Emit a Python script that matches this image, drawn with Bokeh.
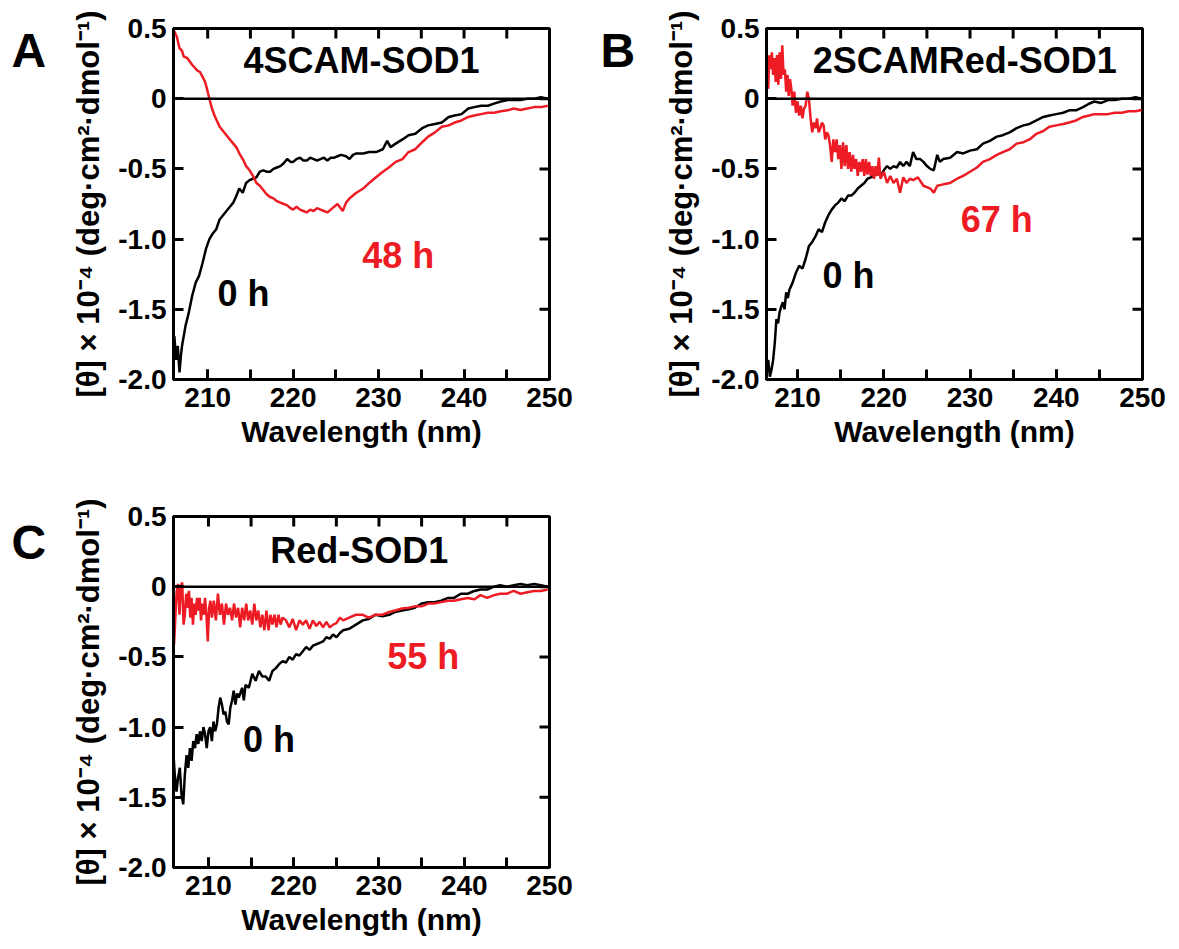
import math
from bokeh.plotting import figure
from bokeh.models import Range1d, FixedTicker, Span, Label
from bokeh.layouts import column, row
from bokeh.embed import file_html
from bokeh.resources import INLINE

FONT = "Liberation Sans"
RED = "#ED1C24"

# ---------------- data ----------------
x_major = [210, 220, 230, 240, 250]
x_minor = [205, 210, 215, 220, 225, 230, 235, 240, 245, 250]
y_major = [-2.0, -1.5, -1.0, -0.5, 0.0, 0.5]
y_tick_labels = ["-2.0", "-1.5", "-1.0", "-0.5", "0", "0.5"]

titles = ["4SCAM-SOD1", "2SCAMRed-SOD1", "Red-SOD1"]
panel_letters = ["A", "B", "C"]
late_labels = ["48 h", "67 h", "55 h"]
early_label = "0 h"

# Panel A, 0 h
a_wl_0h = [206.1, 206.3, 206.5, 206.7, 206.9, 207.0, 207.4, 207.8, 208.2, 208.6, 209.0, 209.4, 209.8,
           210.2, 210.6, 211.0, 211.4, 211.8, 212.2, 212.6, 213.0, 213.3, 213.7, 214.1, 214.5, 214.9,
           215.3, 215.7, 216.1, 216.5, 216.9, 217.3, 217.7, 218.1, 218.5, 218.9, 219.3, 219.7, 220.0,
           220.4, 220.8, 221.2, 221.6, 222.0, 222.4, 222.8, 223.2, 223.6, 224.0, 224.4, 224.8, 225.2,
           225.6, 226.2, 226.6, 227.0, 227.4, 228.2, 228.9, 229.7, 230.5, 231.0, 231.4, 232.0, 232.8,
           233.5, 234.3, 235.1, 235.8, 236.6, 237.4, 238.2, 238.9, 239.7, 240.5, 241.2, 242.0, 242.8,
           243.5, 244.3, 245.1, 245.8, 246.6, 247.4, 248.2, 249.0, 249.8]
a_th_0h = [-1.69, -1.86, -1.76, -1.95, -1.81, -1.76, -1.62, -1.52, -1.40, -1.31, -1.26, -1.17, -1.07,
           -1.00, -0.96, -0.93, -0.86, -0.83, -0.80, -0.77, -0.74, -0.70, -0.64, -0.67, -0.60, -0.58,
           -0.57, -0.56, -0.52, -0.51, -0.52, -0.52, -0.50, -0.49, -0.48, -0.46, -0.43, -0.45, -0.45,
           -0.43, -0.42, -0.44, -0.44, -0.42, -0.43, -0.44, -0.43, -0.42, -0.44, -0.42, -0.42, -0.41,
           -0.40, -0.41, -0.43, -0.40, -0.39, -0.39, -0.38, -0.38, -0.36, -0.30, -0.345, -0.32, -0.29,
           -0.26, -0.25, -0.21, -0.19, -0.18, -0.17, -0.13, -0.12, -0.11, -0.07, -0.06, -0.05, -0.05,
           -0.035, -0.02, -0.01, -0.01, -0.01, 0.0, 0.0, 0.01, 0.0]

# Panel A, 48 h
a_wl_late = [206.1, 206.4, 206.7, 207.0, 207.2, 207.6, 208.2, 208.8, 209.1, 209.4, 209.7, 210.0, 210.2,
             210.5, 210.8, 211.1, 211.4, 211.8, 212.2, 212.6, 213.0, 213.4, 213.7, 214.1, 214.5, 214.9,
             215.3, 215.7, 216.1, 216.5, 216.9, 217.3, 217.7, 218.1, 218.5, 218.9, 219.3, 219.7, 220.0,
             220.4, 220.8, 221.2, 221.6, 222.0, 222.4, 222.8, 223.2, 223.6, 224.0, 224.4, 224.8, 225.2,
             225.8, 226.2, 226.6, 227.0, 227.4, 228.2, 228.9, 229.7, 230.5, 231.2, 232.0, 232.8, 233.5,
             234.3, 235.1, 235.8, 236.6, 237.4, 238.2, 238.9, 239.7, 240.5, 241.2, 242.0, 242.8, 243.5,
             244.3, 245.1, 245.8, 246.6, 247.4, 248.2, 249.0, 249.8]
a_th_late = [0.48, 0.44, 0.36, 0.34, 0.30, 0.29, 0.24, 0.20, 0.19, 0.155, 0.12, 0.05, 0.0,
             -0.07, -0.12, -0.16, -0.20, -0.23, -0.26, -0.29, -0.32, -0.35, -0.39, -0.43, -0.48, -0.51,
             -0.55, -0.60, -0.62, -0.65, -0.68, -0.70, -0.71, -0.73, -0.74, -0.75, -0.76, -0.78, -0.79,
             -0.77, -0.79, -0.80, -0.81, -0.79, -0.80, -0.78, -0.79, -0.80, -0.81, -0.79, -0.77, -0.75,
             -0.80, -0.74, -0.71, -0.69, -0.67, -0.64, -0.60, -0.56, -0.52, -0.49, -0.45, -0.43, -0.38,
             -0.36, -0.31, -0.27, -0.24, -0.20, -0.19, -0.17, -0.155, -0.13, -0.12, -0.11, -0.10, -0.10,
             -0.09, -0.083, -0.07, -0.08, -0.07, -0.06, -0.06, -0.05]

# Panel B, 0 h
b_wl_0h = [206.6, 206.79, 206.98, 207.17, 207.36, 207.55, 207.74, 207.92, 208.11, 208.3, 208.49, 208.68,
           208.87, 209.06, 209.43, 209.81, 210.19, 210.57, 210.94, 211.32, 211.7, 212.08, 212.45, 212.83,
           213.21, 213.58, 213.96, 214.34, 214.72, 215.09, 215.47, 215.85, 216.23, 216.6, 216.98, 217.36,
           217.74, 218.11, 218.49, 218.87, 219.25, 219.62, 220.0, 220.38, 220.75, 221.13, 221.51, 221.89,
           222.26, 222.64, 223.02, 223.4, 223.77, 224.23, 224.6, 225.0, 225.4, 225.8, 226.2, 226.5, 226.9,
           227.7, 228.5, 229.2, 230.0, 230.8, 231.5, 232.3, 233.1, 233.8, 234.6, 235.4, 236.2, 236.9,
           237.7, 238.5, 239.2, 240.0, 240.8, 241.5, 242.3, 243.1, 243.8, 244.4, 245.2, 246.0, 246.8,
           247.6, 248.4, 249.2, 249.9]
b_th_0h = [-1.86, -1.98, -1.93, -1.86, -1.74, -1.57, -1.60, -1.52, -1.48, -1.45, -1.50, -1.38,
           -1.42, -1.36, -1.31, -1.24, -1.19, -1.21, -1.14, -1.05, -1.02, -0.98, -0.93, -0.95,
           -0.88, -0.83, -0.79, -0.76, -0.74, -0.71, -0.73, -0.69, -0.69, -0.67, -0.64, -0.62,
           -0.60, -0.57, -0.56, -0.55, -0.52, -0.55, -0.51, -0.48, -0.50, -0.48, -0.49, -0.45,
           -0.48, -0.45, -0.48, -0.38, -0.43, -0.43, -0.45, -0.48, -0.50, -0.51, -0.40, -0.45, -0.43,
           -0.42, -0.38, -0.39, -0.37, -0.36, -0.32, -0.30, -0.27, -0.26, -0.24, -0.21, -0.19, -0.18,
           -0.155, -0.13, -0.12, -0.11, -0.10, -0.083, -0.083, -0.06, -0.036, -0.02, -0.03, -0.01, -0.01,
           0.0, 0.0, 0.01, 0.0]

# Panel B, 67 h
b_wl_late = [206.6, 206.72, 206.87, 207.02, 207.17, 207.32, 207.47, 207.62, 207.77, 207.92, 208.08, 208.23,
             208.38, 208.53, 208.68, 208.83, 208.98, 209.13, 209.28, 209.43, 209.62, 209.81, 210.0, 210.19,
             210.38, 210.57, 210.75, 210.94, 211.13, 211.32, 211.51, 211.7, 211.89, 212.08, 212.26, 212.45,
             212.64, 212.83, 213.02, 213.21, 213.4, 213.58, 213.77, 213.96, 214.15, 214.34, 214.53, 214.72,
             214.91, 215.09, 215.28, 215.47, 215.66, 215.85, 216.04, 216.23, 216.42, 216.6, 216.79, 216.98,
             217.17, 217.36, 217.55, 217.74, 217.92, 218.11, 218.3, 218.49, 218.68, 218.87, 219.06, 219.25,
             219.43, 219.62, 220.0, 220.38, 220.75, 221.13, 221.51, 221.89, 222.26, 222.64, 223.02, 223.4,
             223.96, 224.6, 225.4, 225.8, 226.2, 226.9, 227.7, 228.5, 229.2, 230.0, 230.8, 231.5, 232.3,
             233.1, 233.8, 234.6, 235.4, 236.2, 236.9, 237.7, 238.5, 239.2, 240.0, 240.8, 241.5, 242.3,
             243.1, 243.8, 244.4, 245.2, 246.0, 246.8, 247.6, 248.4, 249.2, 249.9]
b_th_late = [0.07, 0.31, 0.21, 0.33, 0.17, 0.29, 0.12, 0.31, 0.10, 0.33, 0.14, 0.38,
             0.17, 0.21, 0.05, 0.17, 0.02, 0.14, 0.07, -0.05, 0.05, -0.10, -0.02, -0.12,
             -0.05, -0.14, -0.07, -0.05, 0.05, 0.0, -0.14, -0.24, -0.17, -0.21, -0.14, -0.24,
             -0.21, -0.17, -0.19, -0.29, -0.24, -0.26, -0.33, -0.45, -0.29, -0.38, -0.29, -0.43,
             -0.33, -0.50, -0.31, -0.48, -0.33, -0.50, -0.38, -0.52, -0.40, -0.50, -0.43, -0.55,
             -0.45, -0.52, -0.43, -0.55, -0.43, -0.54, -0.45, -0.55, -0.48, -0.57, -0.48, -0.55,
             -0.42, -0.57, -0.52, -0.60, -0.55, -0.60, -0.57, -0.67, -0.56, -0.60, -0.57, -0.58,
             -0.56, -0.62, -0.64, -0.67, -0.62, -0.61, -0.60, -0.57, -0.55, -0.52, -0.49, -0.45, -0.43,
             -0.40, -0.38, -0.36, -0.32, -0.31, -0.29, -0.25, -0.23, -0.20, -0.19, -0.18, -0.17, -0.155,
             -0.13, -0.12, -0.11, -0.11, -0.11, -0.10, -0.10, -0.09, -0.09, -0.08]

# Panel C, 0 h
c_wl_0h = [205.85, 206.05, 206.25, 206.44, 206.64, 206.84, 207.04, 207.23, 207.43, 207.63, 207.83, 208.02,
           208.22, 208.42, 208.62, 208.81, 209.01, 209.21, 209.41, 209.6, 209.8, 210.0, 210.2, 210.4,
           210.59, 210.79, 210.99, 211.19, 211.38, 211.58, 211.78, 211.98, 212.17, 212.37, 212.57, 212.77,
           212.96, 213.16, 213.36, 213.56, 213.95, 214.15, 214.35, 214.74, 215.14, 215.53, 215.93, 216.32,
           216.72, 217.11, 217.51, 217.91, 218.3, 218.7, 219.09, 219.49, 219.88, 220.28, 220.67, 221.07,
           221.46, 221.86, 222.25, 222.65, 223.04, 223.44, 223.83, 224.23, 224.62, 225.02, 225.42, 225.8,
           226.5, 227.3, 228.1, 228.8, 229.6, 230.4, 231.2, 231.9, 232.7, 233.5, 234.2, 235.0, 235.8,
           236.5, 237.3, 238.1, 238.8, 239.6, 240.4, 241.2, 241.9, 242.7, 243.5, 244.2, 245.0, 245.8,
           246.6, 247.4, 248.2, 249.0, 249.8]
c_th_0h = [-1.15, -1.34, -1.46, -1.36, -1.29, -1.48, -1.55, -1.34, -1.20, -1.29, -1.15, -1.24,
           -1.10, -1.15, -1.05, -1.12, -1.03, -1.10, -1.00, -1.05, -1.15, -1.03, -1.00, -1.10,
           -0.96, -1.03, -0.98, -0.86, -0.79, -0.84, -0.91, -0.89, -0.96, -0.98, -0.86, -0.81,
           -0.74, -0.84, -0.76, -0.79, -0.72, -0.81, -0.70, -0.72, -0.62, -0.67, -0.60, -0.64,
           -0.64, -0.67, -0.60, -0.58, -0.55, -0.53, -0.54, -0.50, -0.52, -0.48, -0.49, -0.46,
           -0.43, -0.45, -0.42, -0.41, -0.40, -0.39, -0.36, -0.37, -0.34, -0.36, -0.33, -0.31,
           -0.30, -0.27, -0.24, -0.23, -0.20, -0.21, -0.20, -0.18, -0.17, -0.16, -0.15, -0.12, -0.11,
           -0.11, -0.10, -0.08, -0.08, -0.05, -0.05, -0.03, -0.02, -0.02, 0.0, 0.01, 0.0, 0.01,
           0.02, 0.01, 0.02, 0.01, 0.0]

# Panel C, 55 h
c_wl_late = [205.97, 206.13, 206.28, 206.44, 206.6, 206.76, 206.92, 207.08, 207.23, 207.39, 207.55, 207.71,
             207.87, 208.02, 208.18, 208.34, 208.5, 208.66, 208.81, 208.97, 209.13, 209.29, 209.45, 209.6,
             209.76, 209.92, 210.08, 210.24, 210.4, 210.63, 210.87, 211.11, 211.34, 211.58, 211.82, 212.06,
             212.29, 212.53, 212.77, 213.0, 213.24, 213.48, 213.72, 213.95, 214.19, 214.43, 214.66, 214.9,
             215.14, 215.38, 215.61, 215.85, 216.09, 216.32, 216.56, 216.8, 217.04, 217.27, 217.51, 217.75,
             217.98, 218.22, 218.46, 218.7, 219.09, 219.49, 219.88, 220.28, 220.67, 221.07, 221.46, 221.86,
             222.25, 222.65, 223.04, 223.44, 223.83, 224.23, 224.62, 225.02, 225.42, 225.8, 226.5, 227.3,
             228.1, 228.8, 229.6, 230.4, 231.2, 231.9, 232.7, 233.5, 234.2, 235.0, 235.8, 236.5, 237.3,
             238.1, 238.8, 239.6, 240.4, 241.2, 241.9, 242.7, 243.5, 244.2, 245.0, 245.8, 246.6, 247.4,
             248.2, 249.0, 249.8]
c_th_late = [-0.41, -0.20, -0.03, 0.02, -0.20, 0.0, 0.03, -0.27, -0.20, -0.05, -0.15, -0.03,
             -0.22, -0.08, -0.27, -0.12, -0.20, -0.08, -0.17, -0.08, -0.24, -0.12, -0.20, -0.08,
             -0.20, -0.39, -0.15, -0.10, -0.22, -0.10, -0.24, -0.05, -0.20, -0.12, -0.27, -0.12,
             -0.20, -0.15, -0.24, -0.12, -0.22, -0.15, -0.29, -0.15, -0.24, -0.12, -0.24, -0.17,
             -0.27, -0.12, -0.24, -0.17, -0.29, -0.20, -0.31, -0.17, -0.31, -0.20, -0.27, -0.20,
             -0.29, -0.20, -0.27, -0.22, -0.24, -0.29, -0.23, -0.31, -0.24, -0.27, -0.24, -0.30,
             -0.24, -0.28, -0.25, -0.29, -0.25, -0.29, -0.27, -0.26, -0.22, -0.24, -0.22, -0.20,
             -0.20, -0.22, -0.20, -0.20, -0.18, -0.17, -0.155, -0.15, -0.14, -0.14, -0.12, -0.12, -0.11,
             -0.10, -0.10, -0.09, -0.08, -0.09, -0.06, -0.08, -0.06, -0.05, -0.05, -0.03, -0.05, -0.04,
             -0.03, -0.03, -0.02]

panels = [
    dict(wl0=a_wl_0h, th0=a_th_0h, wl1=a_wl_late, th1=a_th_late, xstart=206.0,
         title_xy=(228.0, 0.27), late_xy=(232.3, -1.12), early_xy=(214.2, -1.39)),
    dict(wl0=b_wl_0h, th0=b_th_0h, wl1=b_wl_late, th1=b_th_late, xstart=206.4,
         title_xy=(229.4, 0.27), late_xy=(233.1, -0.86), early_xy=(215.9, -1.26)),
    dict(wl0=c_wl_0h, th0=c_th_0h, wl1=c_wl_late, th1=c_th_late, xstart=205.9,
         title_xy=(227.7, 0.257), late_xy=(235.2, -0.496), early_xy=(217.1, -1.086)),
]

YLABEL = "[\u03b8] \u00d7 10\u207b\u2074 (deg\u00b7cm\u00b2\u00b7dmol\u207b\u00b9)"

FRAME_W = 376
FRAME_H = 351
Y0, Y1 = -2.0, 0.5
X1 = 250.0
LETTER_W = 60


def style_axis(ax):
    ax.axis_line_width = 3
    ax.axis_line_color = "black"
    ax.major_tick_in = 10
    ax.major_tick_out = 0
    ax.minor_tick_in = 10
    ax.minor_tick_out = 0
    ax.major_tick_line_width = 3
    ax.minor_tick_line_width = 3
    ax.major_label_text_font = FONT
    ax.major_label_text_font_style = "bold"
    ax.major_label_text_color = "black"
    ax.major_label_text_font_size = "28px"
    ax.axis_label_text_font = FONT
    ax.axis_label_text_font_style = "bold"
    ax.axis_label_text_color = "black"


def make_letter(letter, height, x_px, y_from_top):
    f = figure(width=LETTER_W, height=height, output_backend="svg", toolbar_location=None,
               x_range=Range1d(0, LETTER_W), y_range=Range1d(0, height),
               x_axis_type=None, y_axis_type=None, min_border=0)
    f.grid.visible = False
    f.outline_line_color = None
    f.background_fill_color = "white"
    f.border_fill_color = "white"
    f.add_layout(Label(x=x_px, y=height - y_from_top, text=letter, text_font=FONT,
                       text_font_style="bold", text_font_size="48px", text_color="black",
                       text_align="left", text_baseline="middle"))
    return f


def make_panel(i, left, right, top, bottom):
    d = panels[i]
    x0 = d["xstart"]
    p = figure(frame_width=FRAME_W, frame_height=FRAME_H, output_backend="svg", toolbar_location=None,
               x_range=Range1d(x0, X1), y_range=Range1d(Y0, Y1),
               min_border_left=left, min_border_right=right,
               min_border_top=top, min_border_bottom=bottom)
    p.grid.visible = False
    p.outline_line_color = "black"
    p.outline_line_width = 3
    p.background_fill_color = "white"
    p.border_fill_color = "white"

    p.xaxis.ticker = FixedTicker(ticks=x_major, minor_ticks=x_minor)
    p.yaxis.ticker = FixedTicker(ticks=y_major, minor_ticks=[])
    p.yaxis.major_label_overrides = {v: s for v, s in zip(y_major, y_tick_labels)}
    style_axis(p.xaxis[0])
    style_axis(p.yaxis[0])
    p.xaxis.major_label_standoff = 8
    p.yaxis.major_label_standoff = 7

    p.xaxis.axis_label = "Wavelength (nm)"
    p.yaxis.axis_label = YLABEL
    p.xaxis.axis_label_text_font_size = "30px"
    p.yaxis.axis_label_text_font_size = "31px"
    p.xaxis.axis_label_standoff = 5
    p.yaxis.axis_label_standoff = 9

    # inward ticks on the top and right edges of the frame (same tick lists)
    top_x = [t for t in x_minor if x0 < t < X1]
    p.ray(x=top_x, y=[Y1] * len(top_x), length=10, length_units="screen",
          angle=-math.pi / 2, line_color="black", line_width=3)
    right_y = [t for t in y_major if Y0 < t < Y1]
    p.ray(x=[X1] * len(right_y), y=right_y, length=10, length_units="screen",
          angle=math.pi, line_color="black", line_width=3)

    p.add_layout(Span(location=0, dimension="width", line_color="black", line_width=2.5))

    p.line(d["wl0"], d["th0"], line_color="black", line_width=2.5)
    p.line(d["wl1"], d["th1"], line_color=RED, line_width=2.5)

    tx, ty = d["title_xy"]
    p.add_layout(Label(x=tx, y=ty, text=titles[i], text_font=FONT, text_font_style="bold",
                       text_font_size="36px", text_color="black", text_align="center",
                       text_baseline="middle"))
    lx, ly = d["late_xy"]
    p.add_layout(Label(x=lx, y=ly, text=late_labels[i], text_font=FONT, text_font_style="bold",
                       text_font_size="36px", text_color=RED, text_align="center",
                       text_baseline="middle"))
    ex, ey = d["early_xy"]
    p.add_layout(Label(x=ex, y=ey, text=early_label, text_font=FONT, text_font_style="bold",
                       text_font_size="36px", text_color="black", text_align="center",
                       text_baseline="middle"))
    return p


ROW1_H = 488
ROW2_H = 461

letA = make_letter(panel_letters[0], ROW1_H, 11, 30)
pA = make_panel(0, 173 - LETTER_W, 44, 28, ROW1_H - 28 - FRAME_H)
letB = make_letter(panel_letters[1], ROW1_H, 7, 30)
pB = make_panel(1, 173 - LETTER_W, 37, 28, ROW1_H - 28 - FRAME_H)
letC = make_letter(panel_letters[2], ROW2_H, 11, 34)
pC = make_panel(2, 173 - LETTER_W, 44, 28, ROW2_H - 28 - FRAME_H)

layout = column(row(letA, pA, letB, pB), row(letC, pC))
open("out.html", "w").write(file_html(layout, INLINE))
